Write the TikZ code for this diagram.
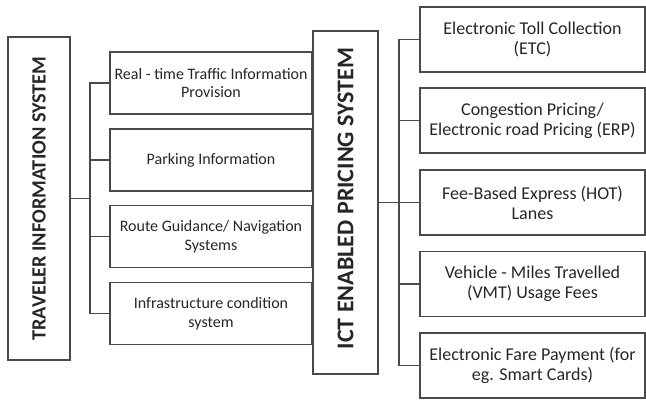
\documentclass[tikz,border=0pt]{standalone}
\usepackage{fontspec}
\setmainfont{Carlito}
\definecolor{linec}{HTML}{4A4A4A}
\definecolor{textc}{HTML}{262626}
\begin{document}
\begin{tikzpicture}[x=0.75pt,y=-0.75pt,
  box/.style={draw=linec, line width=1.1pt, rectangle, align=center, inner sep=1pt,
    text=textc},
  midbox/.style={box, minimum width=202*0.75pt, minimum height=62*0.75pt,
    font=\fontsize{12}{14}\selectfont},
  rbox/.style={box, minimum width=225*0.75pt, minimum height=65*0.75pt,
    font=\fontsize{13.5}{15}\selectfont},
  title/.style={draw=linec, line width=1.1pt, rectangle, inner sep=0pt},
  conn/.style={draw=linec, line width=1pt}]
\useasboundingbox (0,0) rectangle (646,400);
% left title
\node[title, minimum width=62*0.75pt, minimum height=323*0.75pt] (trav) at (39,198.5) {};
\node[rotate=90, text=textc, font=\fontsize{15.2}{17}\selectfont\bfseries] (travt) at (39,198.5) {TRAVELER INFORMATION SYSTEM};
% middle boxes
\node[midbox] (m1) at (211,83) {Real - time Traffic Information\\Provision};
\node[midbox] (m2) at (211,160) {Parking Information};
\node[midbox] (m3) at (211,236.5) {Route Guidance/ Navigation\\Systems};
\node[midbox] (m4) at (211,313.5) {Infrastructure condition\\system};
% ICT title
\node[title, minimum width=65*0.75pt, minimum height=343*0.75pt] (ict) at (345.5,202.5) {};
\node[rotate=90, text=textc, font=\fontsize{18}{20}\selectfont\bfseries] (ictt) at (345.5,198.5) {ICT ENABLED PRICING SYSTEM};
% right boxes
\node[rbox] (r1) at (532.5,39.5) {Electronic Toll Collection\\(ETC)};
\node[rbox] (r2) at (532.5,120.5) {Congestion Pricing/\\Electronic road Pricing (ERP)};
\node[rbox] (r3) at (532.5,202.5) {Fee-Based Express (HOT)\\Lanes};
\node[rbox] (r4) at (532.5,284) {Vehicle - Miles Travelled\\(VMT) Usage Fees};
\node[rbox] (r5) at (532.5,365.5) {Electronic Fare Payment (for\\eg. Smart Cards)};
% junctions
\coordinate (jl) at (90,198.5);
\coordinate (jr) at (399,202.5);
\draw[conn] (trav.east) -- (jl);
\foreach \n in {m1,m2,m3,m4} \draw[conn] (\n.west) -| (jl);
\draw[conn] (ict.east) -- (jr);
\foreach \n in {r1,r2,r3,r4,r5} \draw[conn] (\n.west) -| (jr);
\end{tikzpicture}
\end{document}
